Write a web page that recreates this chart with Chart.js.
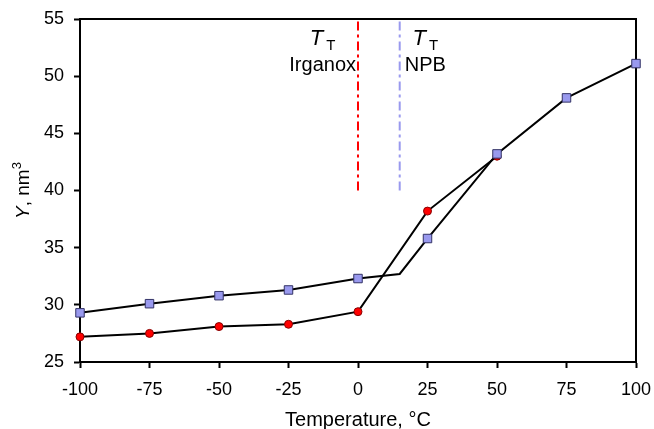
<!DOCTYPE html>
<html>
<head>
<meta charset="utf-8">
<script src="https://cdn.jsdelivr.net/npm/chart.js@4/dist/chart.umd.min.js"></script>
<style>
  html, body { margin: 0; padding: 0; background: #fff; }
  #wrap { width: 654px; height: 429px; }
</style>
</head>
<body>
<div id="wrap"><canvas id="chart"></canvas></div>
<script>
// данные
const npbX = [-100, -75, -50, -25, 0, 15, 25, 50, 75, 100];
const npbY = [29.3, 30.1, 30.8, 31.3, 32.3, 32.7, 35.8, 43.2, 48.1, 51.1];
const npbMarker = [true, true, true, true, true, false, true, true, true, true];
const irgX = [-100, -75, -50, -25, 0, 25, 50];
const irgY = [27.2, 27.5, 28.1, 28.3, 29.4, 38.2, 43.0];
const transX = [0, 15];          // T_T Irganox, T_T NPB
const transY = [40, 55];         // от и до по оси Y
const transNames = ['Irganox', 'NPB'];
const xTicks = [-100, -75, -50, -25, 0, 25, 50, 75, 100];
const yTicks = [25, 30, 35, 40, 45, 50, 55];

const FONT = '"Liberation Sans", Arial, sans-serif';

const pts = (xs, ys) => xs.map((x, i) => ({ x: x, y: ys[i] }));

// рамка, подписи T_T и заголовок оси Y
const extras = {
    id: 'extras',
    beforeDatasetsDraw(chart) {
        const c = chart.ctx;
        const a = chart.chartArea;
        c.save();
        c.strokeStyle = '#000';
        c.lineWidth = 2;
        c.beginPath();
        c.moveTo(a.left, a.top);
        c.lineTo(a.right, a.top);
        c.lineTo(a.right, a.bottom);
        c.stroke();
        c.restore();
    },
    afterDraw(chart) {
        const c = chart.ctx;
        const sx = chart.scales.x, sy = chart.scales.y;
        c.save();
        c.fillStyle = '#000';
        c.textBaseline = 'alphabetic';
        transX.forEach((tx, i) => {
            const px = sx.getPixelForValue(tx);
            const right = i === 0;
            c.font = '20px ' + FONT;
            const nameW = c.measureText(transNames[i]).width;
            const cx = right ? px - 2 - nameW / 2 : px + 5 + nameW / 2;
            // T с индексом T
            c.font = 'italic 22px ' + FONT;
            const tw = c.measureText('T').width;
            c.font = '15px ' + FONT;
            const sw = c.measureText('T').width;
            const tot = tw + 3 + sw;
            let x0 = cx - tot / 2;
            c.textAlign = 'left';
            c.font = 'italic 22px ' + FONT;
            c.fillText('T', x0, 45);
            c.font = '15px ' + FONT;
            c.fillText('T', x0 + tw + 3, 50);
            c.font = '20px ' + FONT;
            c.textAlign = 'center';
            c.fillText(transNames[i], cx, 71);
        });

        // Y, nm3
        c.translate(22, (sy.top + sy.bottom) / 2);
        c.rotate(-Math.PI / 2);
        c.textAlign = 'left';
        c.font = 'italic 19px ' + FONT;
        const w1 = c.measureText('Y').width;
        c.font = '19px ' + FONT;
        const w2 = c.measureText(', nm').width;
        c.font = '13px ' + FONT;
        const w3 = c.measureText('3').width;
        let x = -(w1 + w2 + w3) / 2;
        c.font = 'italic 19px ' + FONT;
        c.fillText('Y', x, 7);
        c.font = '19px ' + FONT;
        c.fillText(', nm', x + w1, 7);
        c.font = '13px ' + FONT;
        c.fillText('3', x + w1 + w2, -1);
        c.restore();
    }
};

new Chart(document.getElementById('chart'), {
    type: 'scatter',
    data: {
        datasets: [
            {
                label: 'NPB',
                data: pts(npbX, npbY),
                showLine: true,
                clip: false,
                borderColor: '#000',
                borderWidth: 2,
                pointStyle: 'rect',
                pointRadius: npbMarker.map(m => m ? 6 : 0),
                pointBackgroundColor: '#9999ee',
                pointBorderColor: '#333366',
                pointBorderWidth: 1,
                order: 1
            },
            {
                label: 'Irganox',
                data: pts(irgX, irgY),
                showLine: true,
                clip: false,
                borderColor: '#000',
                borderWidth: 2,
                pointStyle: 'circle',
                pointRadius: 4,
                pointBackgroundColor: '#ff0000',
                pointBorderColor: '#880000',
                pointBorderWidth: 1,
                order: 2
            },
            {
                label: 'T_T Irganox',
                data: pts([transX[0], transX[0]], transY),
                showLine: true,
                borderColor: '#ff0000',
                borderWidth: 2,
                borderDash: [9, 4, 3, 4],
                pointRadius: 0,
                order: 3
            },
            {
                label: 'T_T NPB',
                data: pts([transX[1], transX[1]], transY),
                showLine: true,
                borderColor: '#9999ee',
                borderWidth: 2,
                borderDash: [9, 4, 3, 4],
                pointRadius: 0,
                order: 3
            }
        ]
    },
    options: {
        responsive: true,
        maintainAspectRatio: false,
        animation: false,
        layout: { padding: { top: 19, right: 18, left: 0, bottom: 0 } },
        plugins: {
            legend: { display: false },
            tooltip: { enabled: false }
        },
        scales: {
            x: {
                type: 'linear',
                min: -100,
                max: 100,
                afterBuildTicks: s => { s.ticks = xTicks.map(v => ({ value: v })); },
                afterFit: s => {
                    s.height = 67;
                    s.paddingLeft = 0;
                    s.paddingRight = 0;
                },
                ticks: {
                    color: '#000',
                    font: { family: FONT, size: 18 },
                    padding: 11,
                    maxRotation: 0
                },
                grid: { drawOnChartArea: false, tickLength: 6, tickColor: '#000', tickWidth: 2 },
                border: { color: '#000', width: 2 },
                title: {
                    display: true,
                    text: 'Temperature, °C',
                    color: '#000',
                    font: { family: FONT, size: 20 },
                    padding: { top: 0, bottom: -3 }
                }
            },
            y: {
                type: 'linear',
                min: 25,
                max: 55,
                afterBuildTicks: s => { s.ticks = yTicks.map(v => ({ value: v })); },
                afterFit: s => {
                    s.width = 80;
                    s.paddingTop = 0;
                    s.paddingBottom = 0;
                },
                ticks: {
                    color: '#000',
                    font: { family: FONT, size: 18 },
                    padding: 10
                },
                grid: { drawOnChartArea: false, tickLength: 6, tickColor: '#000', tickWidth: 2 },
                border: { color: '#000', width: 2 }
            }
        }
    },
    plugins: [extras]
});
</script>
</body>
</html>
